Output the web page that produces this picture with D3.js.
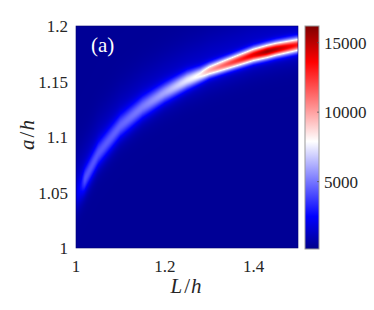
<!DOCTYPE html>
<html>
<head>
<meta charset="utf-8">
<script src="https://cdn.jsdelivr.net/npm/d3@7"></script>
<style>
  body { margin: 0; background: #fff; }
  text { font-family: "Liberation Serif", "Times New Roman", serif; fill: #262626; }
</style>
</head>
<body>
<svg id="chart" width="374" height="310"></svg>
<script>
// ridge of the map (L/h -> centre a/h, peak value, width)
var ridgeL     = [1.000, 1.012, 1.020, 1.050, 1.100, 1.150, 1.200, 1.250, 1.280, 1.300, 1.350, 1.400, 1.430, 1.450, 1.500];
var ridgeA     = [1.048, 1.056, 1.062, 1.085, 1.110, 1.127, 1.140, 1.151, 1.156, 1.160, 1.167, 1.174, 1.177, 1.179, 1.183];
var ridgePeak  = [300, 1200, 2600, 2700, 3000, 3500, 4400, 5800, 6600, 8200, 10500, 12500, 14000, 13500, 11500];
var ridgeWidth = [0.0080, 0.0080, 0.0078, 0.0078, 0.0074, 0.0068, 0.0060, 0.0054, 0.0046, 0.0042, 0.0042, 0.0044, 0.0044, 0.0044, 0.0044];

var background = 400, haloAmp = 1200, haloUp = 0.022, haloDown = 0.012;

var xTicks = [1, 1.2, 1.4];
var yTicks = [1, 1.05, 1.1, 1.15, 1.2];
var cTicks = [5000, 10000, 15000];

// colormap: dark blue -> blue -> white -> red -> dark red
var cmapStops  = [150, 2500, 7900, 13600, 16200];
var cmapColors = ["#00008a", "#0000ff", "#ffffff", "#ff0000", "#800000"];

var svg = d3.select("#chart");
var x = d3.scaleLinear().domain([1, 1.5]).range([76, 298]);
var y = d3.scaleLinear().domain([1, 1.2]).range([248, 26]);
var color = d3.scaleLinear().domain(cmapStops).range(cmapColors).clamp(true);

var centreAt = d3.scaleLinear().domain(ridgeL).range(ridgeA);
var peakAt = d3.scaleLinear().domain(ridgeL).range(ridgePeak);
var widthAt = d3.scaleLinear().domain(ridgeL).range(ridgeWidth);

function field(L, a) {
  var d = a - centreAt(L);
  var hw = d > 0 ? haloUp : haloDown;
  var w = widthAt(L);
  return background + haloAmp * Math.exp(-d * d / (2 * hw * hw))
    + peakAt(L) * Math.exp(-d * d / (2 * w * w));
}

// paint the grid on a canvas, one cell per pixel
var nx = 222, ny = 222;
var canvas = document.createElement("canvas");
canvas.width = nx; canvas.height = ny;
var ctx = canvas.getContext("2d");
var img = ctx.createImageData(nx, ny);
for (var j = 0; j < ny; j++) {
  var a = y.invert(26 + j + 0.5);
  for (var i = 0; i < nx; i++) {
    var L = x.invert(76 + i + 0.5);
    var c = d3.rgb(color(field(L, a)));
    var k = (j * nx + i) * 4;
    img.data[k] = c.r; img.data[k + 1] = c.g; img.data[k + 2] = c.b; img.data[k + 3] = 255;
  }
}
ctx.putImageData(img, 0, 0);

svg.append("image")
  .attr("x", x(1)).attr("y", y(1.2))
  .attr("width", x(1.5) - x(1)).attr("height", y(1) - y(1.2))
  .attr("preserveAspectRatio", "none")
  .attr("href", canvas.toDataURL());

svg.append("rect")
  .attr("x", x(1)).attr("y", y(1.2))
  .attr("width", x(1.5) - x(1)).attr("height", y(1) - y(1.2))
  .attr("fill", "none").attr("stroke", "#000070").attr("stroke-width", 0.6);

// tick labels
svg.selectAll(".xt").data(xTicks).enter().append("text")
  .attr("x", function(d) { return x(d); }).attr("y", 272)
  .attr("text-anchor", "middle").style("font-size", "17px")
  .text(function(d) { return d3.format("")(d); });

svg.selectAll(".yt").data(yTicks).enter().append("text")
  .attr("x", 68).attr("y", function(d) { return y(d) + 6; })
  .attr("text-anchor", "end").style("font-size", "17px")
  .text(function(d) { return d3.format("")(d); });

svg.append("text")
  .attr("x", 186).attr("y", 293).attr("text-anchor", "middle")
  .style("font-size", "21px")
  .html('<tspan font-style="italic">L</tspan><tspan dx="2">/</tspan><tspan font-style="italic" dx="1">h</tspan>');

svg.append("text")
  .attr("transform", "translate(34,135) rotate(-90)").attr("text-anchor", "middle")
  .style("font-size", "21px")
  .html('<tspan font-style="italic">a</tspan><tspan dx="2">/</tspan><tspan font-style="italic" dx="1">h</tspan>');

svg.append("text")
  .attr("x", 91).attr("y", 52).style("font-size", "21px").style("fill", "#fff")
  .text("(a)");

// colorbar
var cb = d3.scaleLinear().domain([150, 16200]).range([249, 26]);
var grad = svg.append("defs").append("linearGradient")
  .attr("id", "cbar").attr("x1", 0).attr("y1", 1).attr("x2", 0).attr("y2", 0);
grad.selectAll("stop").data(cmapStops).enter().append("stop")
  .attr("offset", function(d) { return (d - 150) / (16200 - 150); })
  .attr("stop-color", function(d, i) { return cmapColors[i]; });

svg.append("rect")
  .attr("x", 305).attr("y", cb(16200)).attr("width", 14).attr("height", cb(150) - cb(16200))
  .attr("fill", "url(#cbar)").attr("stroke", "#9a9a9a").attr("stroke-width", 1);

svg.selectAll(".ctk").data(cTicks).enter().append("line")
  .attr("x1", 317).attr("x2", 319)
  .attr("y1", function(d) { return cb(d); }).attr("y2", function(d) { return cb(d); })
  .attr("stroke", "#555").attr("stroke-width", 0.8);

svg.selectAll(".ct").data(cTicks).enter().append("text")
  .attr("x", 324).attr("y", function(d) { return cb(d) + 6; })
  .style("font-size", "17px")
  .text(function(d) { return d; });
</script>
</body>
</html>
